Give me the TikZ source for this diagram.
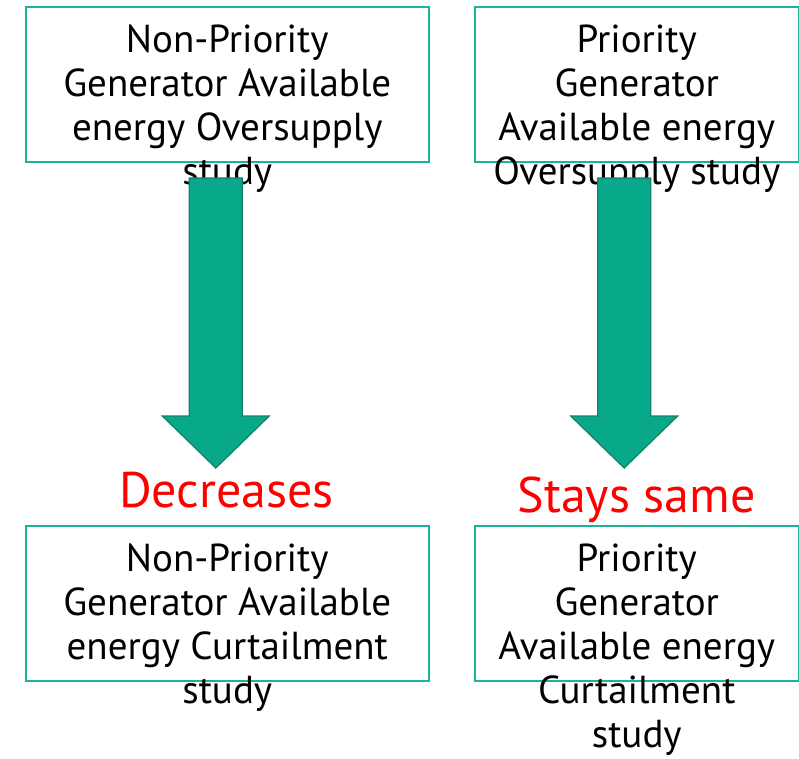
\documentclass[tikz,border=0pt]{standalone}
\usepackage{fontspec}
\setmainfont{PT Sans}
\usetikzlibrary{positioning}

\definecolor{boxline}{RGB}{26,180,150}
\definecolor{arrowfill}{RGB}{8,168,138}
\definecolor{arrowedge}{RGB}{20,128,106}
\definecolor{noteRed}{RGB}{255,0,0}

\tikzset{
	studybox/.style={draw=boxline, line width=1.5pt, minimum width=403pt, minimum height=155pt, inner sep=0pt},
	studytext/.style={align=center, inner sep=0pt, font=\fontsize{39}{44}\selectfont},
	change/.style={text=noteRed, inner sep=0pt, font=\fontsize{50}{60}\selectfont},
	blockarrow/.style={fill=arrowfill, draw=arrowedge, line width=1.2pt, line join=miter}
}

\begin{document}
\begin{tikzpicture}[x=1pt, y=-1pt]
	\useasboundingbox (0,0) rectangle (799,758);

	% 1. 四个研究方框
	\node[studybox, anchor=north west] (nonOver) at (25,6) {};
	\node[studybox, anchor=north west, minimum width=324pt] (priOver) at (474,6) {};
	\node[studybox, anchor=north west] (nonCurt) at (25,525) {};
	\node[studybox, anchor=north west, minimum width=324pt] (priCurt) at (474,525) {};

	% 2. 方框文字（超出方框底边）
	\node[studytext, anchor=north, yshift=-19pt] (nonOverTxt) at (nonOver.north) {Non-Priority\\Generator Available\\energy Oversupply\\study};
	\node[studytext, anchor=north, yshift=-19pt] (priOverTxt) at (priOver.north) {Priority\\Generator\\Available energy\\Oversupply study};

	% 3. 粗箭头（在文字上方）
	\foreach \cx in {215.8, 624.2} {
		\filldraw[blockarrow] (\cx-26.5,178) -- (\cx+26.5,178) -- (\cx+26.5,416) -- (\cx+53.5,416)
			-- (\cx,468) -- (\cx-53.5,416) -- (\cx-26.5,416) -- cycle;
	}

	\node[studytext, anchor=north, yshift=-19pt] (nonCurtTxt) at (nonCurt.north) {Non-Priority\\Generator Available\\energy Curtailment\\study};
	\node[studytext, anchor=north, yshift=-19pt] (priCurtTxt) at (priCurt.north) {Priority\\Generator\\Available energy\\Curtailment\\study};

	% 4. 变化说明
	\node[change, anchor=base] (decr) at (226.5,507) {Decreases};
	\node[change, anchor=base] (same) at (636.5,512) {Stays same};
\end{tikzpicture}
\end{document}
